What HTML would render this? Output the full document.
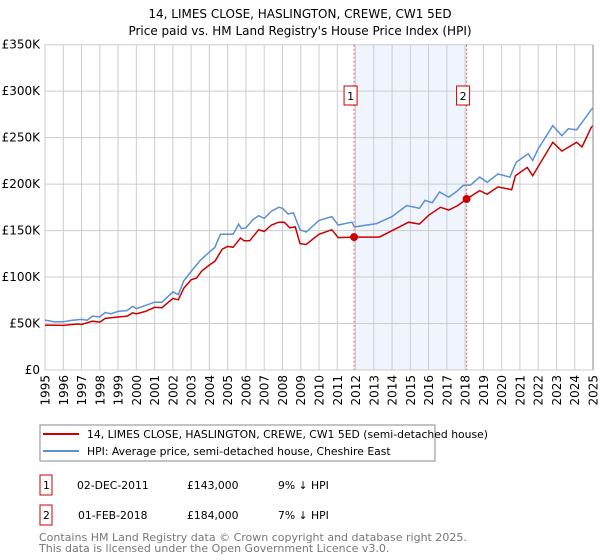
<!DOCTYPE html>
<html><head><meta charset="utf-8"><style>
body{margin:0;background:#fff;font-family:"DejaVu Sans","Liberation Sans",sans-serif;}
</style></head><body>
<svg id="c" width="600" height="560" xmlns="http://www.w3.org/2000/svg" style="display:block;font-family:'DejaVu Sans','Liberation Sans',sans-serif">
<text x="300" y="18" text-anchor="middle" font-size="12" fill="#000">14, LIMES CLOSE, HASLINGTON, CREWE, CW1 5ED</text>
<text x="300" y="35" text-anchor="middle" font-size="12" fill="#000">Price paid vs. HM Land Registry's House Price Index (HPI)</text>
<g id="grid"></g><g id="marks"></g><g id="axes"></g>
<rect x="40" y="425" width="395" height="36" fill="#fff" stroke="#888"/>
<line x1="43" y1="434" x2="79" y2="434" stroke="#cc0000" stroke-width="2"/>
<text x="87" y="438" font-size="10.8">14, LIMES CLOSE, HASLINGTON, CREWE, CW1 5ED (semi-detached house)</text>
<line x1="43" y1="451" x2="79" y2="451" stroke="#5b8fd6" stroke-width="2"/>
<text x="87" y="455" font-size="10.8">HPI: Average price, semi-detached house, Cheshire East</text>
<g font-size="10.8">
<rect x="40" y="475" width="12" height="20" fill="#fff" stroke="#cc0000"/><text x="43" y="489">1</text>
<text x="77" y="489">02-DEC-2011</text><text x="187" y="489">£143,000</text><text x="278" y="489">9% ↓ HPI</text></g>
<g font-size="10.8">
<rect x="40" y="505" width="12" height="20" fill="#fff" stroke="#cc0000"/><text x="43" y="519">2</text>
<text x="78" y="519">01-FEB-2018</text><text x="187" y="519">£184,000</text><text x="278" y="519">7% ↓ HPI</text></g>
<text x="39" y="541" font-size="11" fill="#777">Contains HM Land Registry data © Crown copyright and database right 2025.</text>
<text x="39" y="552" font-size="11" fill="#777">This data is licensed under the Open Government Licence v3.0.</text>
</svg>
<script>
const hpiYears=[1995,1995.5,1996,1996.5,1997,1997.3,1997.6,1998,1998.3,1998.6,1999,1999.5,1999.8,2000,2000.5,2001,2001.4,2002,2002.3,2002.6,2003,2003.5,2004,2004.3,2004.6,2005,2005.3,2005.6,2005.75,2006,2006.4,2006.7,2007,2007.4,2007.8,2008,2008.3,2008.6,2008.96,2009.3,2010,2010.7,2011.05,2011.8,2011.95,2013.15,2014,2014.8,2015.5,2015.8,2016.2,2016.6,2017.1,2017.5,2017.9,2018.3,2018.8,2019.2,2019.8,2020.45,2020.8,2021.45,2021.7,2022,2022.8,2023.3,2023.65,2024.1,2024.9,2025];
const hpiValues=[53.7,52,52,53.5,54.4,53.5,58,57,62,60.5,63,64,68.5,66,69.5,73,73,84,81,96,106,118,127,132,146,146,146,157,152,153,162,166,163,171,175,174,168,169,151,148.5,161,165,156,159,154,157.5,165,177,174,182.5,180,191.5,186,191.5,198.6,199,207.5,202,211,207.5,223.7,232.6,225.5,238,263,252,259.5,258.4,280,282];
const priceYears=[1995,1996,1996.8,1997,1997.6,1998,1998.3,1999,1999.5,1999.8,2000,2000.5,2001,2001.4,2002,2002.3,2002.6,2003,2003.3,2003.6,2004,2004.3,2004.7,2005,2005.3,2005.7,2005.9,2006.2,2006.7,2007,2007.4,2007.8,2008.1,2008.4,2008.7,2008.96,2009.3,2009.7,2010,2010.7,2011.05,2011.92,2013.3,2014.4,2014.9,2015.5,2016,2016.65,2017.1,2017.6,2018.08,2018.8,2019.2,2019.8,2020.55,2020.75,2021.4,2021.7,2022.8,2023.3,2024.1,2024.4,2024.9,2025];
const priceValues=[48.3,48,49.5,49,52.5,51.5,55.5,57,58,61.5,60.5,63,67.5,67,77,75.5,88,97,99,107,113,117,130,133,132,142,139,139,151,149,156,159,159,153,154,136,135,141.4,146,151,142.5,143,143,154,159,157,166.4,175,172,177,184,193,189,197,194,209,218,209,245,235.5,245,240,261,263];
const saleYears=[2011.92,2018.08];
const saleValues=[143,184];
const saleLabels=["1","2"];
const yTicks=[0,50,100,150,200,250,300,350];
const yTickLabels=["£0","£50K","£100K","£150K","£200K","£250K","£300K","£350K"];
const xTicks=[1995,1996,1997,1998,1999,2000,2001,2002,2003,2004,2005,2006,2007,2008,2009,2010,2011,2012,2013,2014,2015,2016,2017,2018,2019,2020,2021,2022,2023,2024,2025];

const X0=45,X1=593,Y0=370,Y1=44.7;
const xs=y=>X0+(y-1995)/30*(X1-X0);
const ys=v=>Y0-v/350*(Y0-Y1);
const NS="http://www.w3.org/2000/svg";
function mk(tag,parent,attrs){const e=document.createElementNS(NS,tag);for(const k in attrs)e.setAttribute(k,attrs[k]);parent.appendChild(e);return e;}
const grid=document.getElementById('grid'),marks=document.getElementById('marks'),axes=document.getElementById('axes');
const shade=mk('rect',grid,{x:xs(saleYears[0]),y:Y1,width:xs(saleYears[1])-xs(saleYears[0]),height:Y0-Y1,fill:'#f0f4fd'});


yTicks.forEach((t,i)=>{
  const l=mk('line',grid,{x1:X0,x2:X1,y1:ys(t),y2:ys(t),stroke:'#cccccc','stroke-width':1});
  
  
  const tx=mk('text',axes,{x:X0-5,y:ys(t)+4,'text-anchor':'end','font-size':12,fill:'#000'});
  tx.textContent=yTickLabels[i];
  
  
});
xTicks.forEach(t=>{
  const l=mk('line',grid,{x1:xs(t),x2:xs(t),y1:Y1,y2:Y0,stroke:'#cccccc','stroke-width':1});
  
  
  const tx=mk('text',axes,{x:0,y:0,'text-anchor':'end','font-size':12,fill:'#000',transform:`translate(${xs(t)+4.5},${Y0+5}) rotate(-90)`});
  tx.textContent=t;
  
  
});
const rb=mk('line',axes,{x1:X1,x2:X1,y1:Y1,y2:Y0,stroke:'#888','stroke-width':1});


function path(xa,va){return xa.map((x,i)=>(i?'L':'M')+xs(x).toFixed(1)+','+ys(va[i]).toFixed(1)).join('');}
const hp=mk('path',marks,{d:path(hpiYears,hpiValues),fill:'none',stroke:'#5b8fd6','stroke-width':1.5});


const pp=mk('path',marks,{d:path(priceYears,priceValues),fill:'none',stroke:'#cc0000','stroke-width':1.5});


saleYears.forEach((y,i)=>{
  const vl=mk('line',marks,{x1:xs(y),x2:xs(y),y1:Y1,y2:Y0,stroke:'#e06060','stroke-width':1,'stroke-dasharray':'2,2'});
  
  
  const c=mk('circle',marks,{cx:xs(y),cy:ys(saleValues[i]),r:4,fill:'#cc0000'});
  
  
  const b=mk('rect',marks,{x:xs(y)-10,y:86,width:13,height:19,fill:'#fff',stroke:'#cc0000'});
  
  
  const t=mk('text',marks,{x:xs(y)-3.5,y:100,'text-anchor':'middle','font-size':11});
  t.textContent=saleLabels[i];
  
  
});
</script>
</body></html>
